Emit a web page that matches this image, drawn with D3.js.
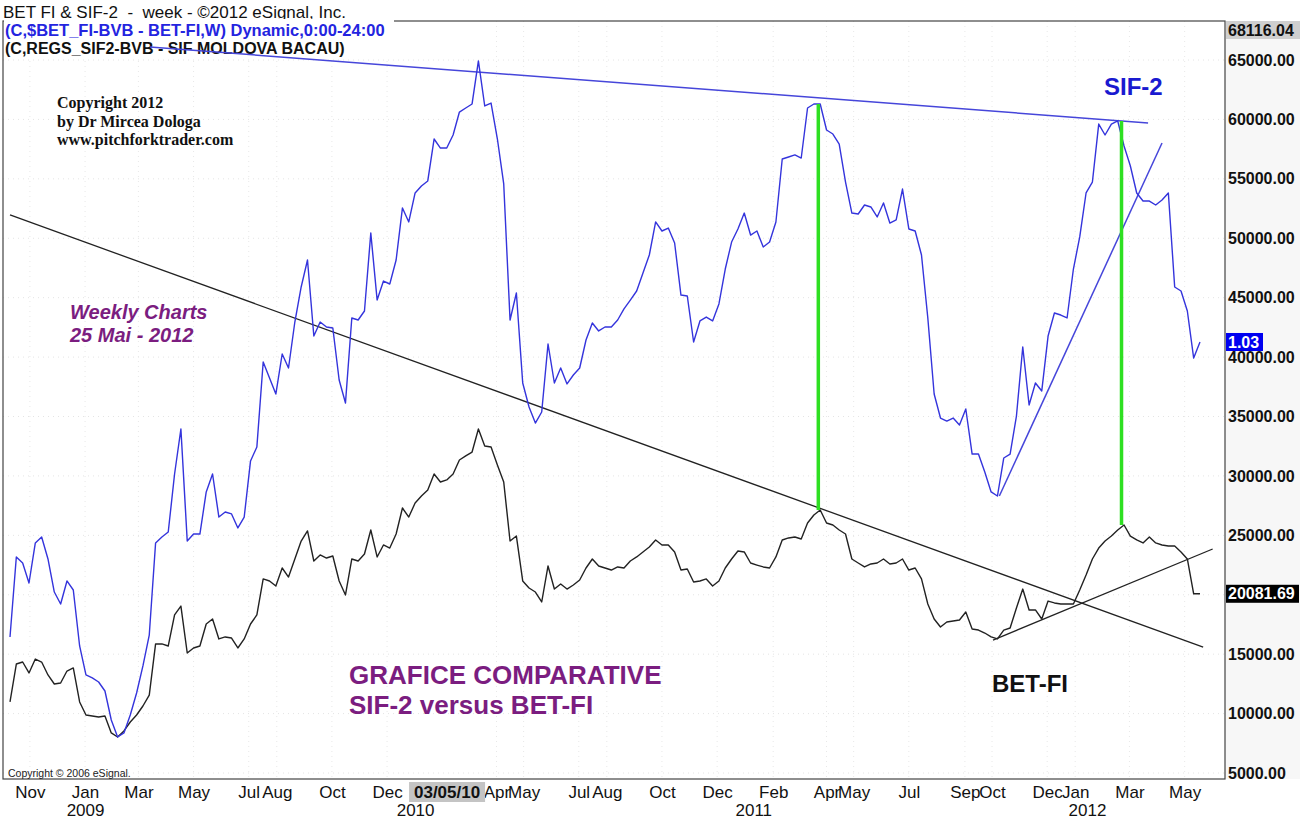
<!DOCTYPE html>
<html lang="en">
<head>
<meta charset="UTF-8">
<title>BET FI & SIF-2 - week</title>
<script src="https://cdn.jsdelivr.net/npm/d3@7"></script>
<style>
body { margin: 0; background: #fff; }
svg text { font-family: "Liberation Sans", Arial, sans-serif; }
svg text.serif { font-family: "Liberation Serif", "Times New Roman", serif; }
</style>
</head>
<body>
<script>

var w = 1313;
var h = 821;
var frame = {left: 3, right: 1225, top: 21, bottom: 779};

// weekly closes, first bar on Fri 10 Oct 2008 (both series on the same price axis)
var firstWeek = "2008-10-10";

var sifValues = [
  16450, 23180, 22670, 20990, 24360, 24860, 23010, 20230, 19220, 21160,
  20400, 15690, 13250, 13000, 12660, 11900, 9460, 8030, 8370, 9880,
  11730, 14010, 16610, 24360, 24860, 25280, 30160, 33950, 24520, 25110,
  25110, 28650, 30160, 26540, 26960, 26800, 25620, 26540, 31260, 32430,
  39590, 38240, 36890, 40260, 39080, 42950, 45900, 48170, 41770, 42950,
  42530, 42450, 38070, 36140, 43290, 43120, 43880, 50440, 44800, 46400,
  46150, 48170, 52550, 51370, 53810, 54400, 54820, 58350, 57590, 57590,
  58690, 60620, 60960, 61300, 64920, 61130, 61380, 58350, 54570, 43120,
  45390, 37820, 35800, 34450, 35380, 41100, 37820, 39080, 37740, 38490,
  39080, 41440, 42870, 42200, 42530, 42530, 43120, 44050, 44800, 45560,
  47080, 48590, 51370, 50610, 50860, 49600, 45220, 45140, 41270, 43040,
  43370, 43040, 44470, 47410, 49680, 50780, 52120, 50270, 50610, 49260,
  49680, 51370, 56670, 56840, 57010, 56750, 60960, 61300, 61300, 59110,
  58770, 57930, 54730, 52120, 52040, 52800, 52630, 51790, 52970, 51280,
  51540, 54140, 50780, 50610, 48590, 43290, 36890, 34870, 34620, 34870,
  34290, 35630, 31840, 31840, 30330, 28650, 28310, 31510, 31840, 35040,
  40850, 35970, 37820, 37150, 41770, 43710, 43540, 43290, 47410, 50110,
  53810, 54730, 59610, 58690, 59610, 59870, 57760, 56080, 53810, 53130,
  53130, 52800, 53220, 53810, 45900, 45560, 43880, 39920, 41270
];

var betValues = [
  10980, 14170, 14340, 13420, 14590, 14340, 13250, 12490, 12570, 13580,
  13840, 10980, 9880, 9800, 9710, 9800, 8370, 8030, 8540, 9290,
  9880, 10640, 11560, 15860, 15860, 15690, 18300, 19050, 15100, 15520,
  15690, 17540, 17960, 16280, 16450, 16360, 15520, 16280, 17540, 18300,
  21330, 21160, 20740, 22250, 21490, 23010, 24520, 25370, 22840, 23350,
  23090, 23260, 21160, 19980, 23010, 22840, 23430, 25450, 23180, 24190,
  23930, 25110, 27300, 26540, 27720, 28310, 28820, 30160, 29490, 29660,
  30160, 31340, 31680, 32010, 33950, 32520, 32430, 30920, 29490, 24520,
  24940, 21160, 20570, 20230, 19390, 22420, 20480, 20910, 20480, 20820,
  21240, 22250, 23010, 22420, 22250, 22080, 22340, 22250, 22840, 23180,
  23600, 24020, 24610, 24190, 24190, 23600, 22080, 22170, 21070, 21160,
  21330, 20740, 21160, 22250, 23010, 23680, 23600, 22670, 22500, 22340,
  22250, 23180, 24610, 24780, 24860, 24690, 26040, 26710, 27130, 26040,
  25870, 25450, 25110, 23010, 22670, 22340, 22590, 22670, 23010, 22590,
  22670, 23010, 22080, 22250, 21330, 19220, 17960, 17290, 17710, 17790,
  17880, 18550, 17120, 17030, 16780, 16450, 16280, 17030, 17200, 18890,
  20480, 18720, 18720, 17960, 19470, 19310, 19220, 19220, 19220, 20400,
  21660, 23010, 23930, 24520, 24940, 25450, 25870, 24940, 24610, 24360,
  24860, 24360, 24190, 24100, 24100, 23600, 23010, 20080, 20081.69
];

var sifLastPrice = "1.03";
var scaleTop = "68116.04";
var cursorDate = "03/05/10";

var yTicks = [65000, 60000, 55000, 50000, 45000, 40000, 35000, 30000, 25000, 20000, 15000, 10000, 5000];

var monthTicks = [
  ["2008-11-01", "Nov"],
  ["2009-01-01", "Jan"], ["2009-03-01", "Mar"], ["2009-05-01", "May"], ["2009-07-01", "Jul"],
  ["2009-08-01", "Aug"], ["2009-10-01", "Oct"], ["2009-12-01", "Dec"],
  ["2010-04-01", "Apr"], ["2010-05-01", "May"],
  ["2010-07-01", "Jul"], ["2010-08-01", "Aug"], ["2010-10-01", "Oct"], ["2010-12-01", "Dec"],
  ["2011-02-01", "Feb"], ["2011-04-01", "Apr"], ["2011-05-01", "May"], ["2011-07-01", "Jul"],
  ["2011-09-01", "Sep"], ["2011-10-01", "Oct"], ["2011-12-01", "Dec"],
  ["2012-01-01", "Jan"], ["2012-03-01", "Mar"], ["2012-05-01", "May"]
];
var yearTicks = [["2009-01-01", "2009"], ["2010-01-01", "2010"], ["2011-01-10", "2011"], ["2012-01-14", "2012"]];

// hand drawn lines: [week, value] end points
var sifResistance = [[22.1, 66090], [179.8, 59700]];
var betResistance = [[0, 51960], [188.5, 15600]];
var sifSupport = [[156.3, 28310], [182, 58020]];
var betSupport = [[155.3, 16190], [190, 23850]];
var peakLinks = [[127.7, 61300, 27130], [175.6, 59870, 25870]];

var parseDate = d3.timeParse("%Y-%m-%d");
var start = parseDate(firstWeek);
function weekDate(k) { return new Date(start.getTime() + k * 7 * 864e5); }

var x = d3.scaleTime()
    .domain([weekDate(0), weekDate(sifValues.length - 1)])
    .range([10, 1200]);
var y = d3.scaleLinear()
    .domain([5000, 65000])
    .range([773, 60]);

var svg = d3.select("body").append("svg")
    .attr("width", w)
    .attr("height", h);

svg.append("rect").attr("width", w).attr("height", h).attr("fill", "#fff");
svg.append("rect")
    .attr("x", frame.right).attr("y", frame.top)
    .attr("width", 75).attr("height", frame.bottom - frame.top)
    .attr("fill", "#f7f7f7");

// faint dotted grid
svg.append("g").selectAll("line").data(yTicks).enter().append("line")
    .attr("x1", frame.left).attr("x2", frame.right)
    .attr("y1", function(d) { return y(d); }).attr("y2", function(d) { return y(d); })
    .attr("stroke", "#e4e4e4").attr("stroke-dasharray", "1,4");
svg.append("g").selectAll("line").data(monthTicks).enter().append("line")
    .attr("x1", function(d) { return x(parseDate(d[0])); })
    .attr("x2", function(d) { return x(parseDate(d[0])); })
    .attr("y1", frame.top).attr("y2", frame.bottom)
    .attr("stroke", "#e8e8e8").attr("stroke-dasharray", "1,4");

svg.append("rect")
    .attr("x", frame.left).attr("y", frame.top)
    .attr("width", frame.right - frame.left).attr("height", frame.bottom - frame.top)
    .attr("fill", "none").attr("stroke", "#444").attr("stroke-width", 1.2);

// header
svg.append("text").attr("x", 3).attr("y", 18)
    .attr("font-size", "17px").attr("fill", "#111")
    .style("white-space", "pre")
    .text("BET FI & SIF-2  -  week - \u00a92012 eSignal, Inc.");
svg.append("rect").attr("x", frame.left + 1).attr("y", 19).attr("width", 390).attr("height", 38).attr("fill", "#fff");
svg.append("text").attr("x", 5).attr("y", 36)
    .attr("font-size", "16.5px").attr("font-weight", "bold").attr("fill", "#2424e0")
    .text("(C,$BET_FI-BVB - BET-FI,W) Dynamic,0:00-24:00");
svg.append("text").attr("x", 5).attr("y", 54)
    .attr("font-size", "16px").attr("font-weight", "bold").attr("fill", "#111")
    .text("(C,REGS_SIF2-BVB - SIF MOLDOVA BACAU)");

// notes
["Copyright 2012", "by Dr Mircea Dologa", "www.pitchforktrader.com"].forEach(function(t, i) {
    svg.append("text").attr("class", "serif")
        .attr("x", 57).attr("y", 108 + i * 18.5)
        .attr("font-weight", "bold").attr("font-size", "16px").attr("fill", "#111")
        .text(t);
});

var purple = "#7b1d80";
svg.append("text").attr("x", 70).attr("y", 319)
    .attr("font-size", "20px").attr("font-weight", "bold").attr("font-style", "italic")
    .attr("fill", purple).text("Weekly Charts");
svg.append("text").attr("x", 70).attr("y", 342)
    .attr("font-size", "20px").attr("font-weight", "bold").attr("font-style", "italic")
    .attr("fill", purple).text("25 Mai - 2012");
svg.append("text").attr("x", 349).attr("y", 684)
    .attr("font-size", "26px").attr("font-weight", "bold")
    .attr("fill", purple).text("GRAFICE COMPARATIVE");
svg.append("text").attr("x", 349).attr("y", 714)
    .attr("font-size", "26px").attr("font-weight", "bold")
    .attr("fill", purple).text("SIF-2 versus BET-FI");
svg.append("text").attr("x", 992).attr("y", 692)
    .attr("font-size", "24px").attr("font-weight", "bold")
    .attr("fill", "#111").text("BET-FI");
svg.append("text").attr("x", 1104).attr("y", 95)
    .attr("font-size", "24px").attr("font-weight", "bold")
    .attr("fill", "#1a1ad0").text("SIF-2");
svg.append("text").attr("x", 8).attr("y", 777)
    .attr("font-size", "10.5px").attr("fill", "#222")
    .text("Copyright \u00a9 2006 eSignal.");

// trend lines
function drawSegment(pts, colour, width) {
    svg.append("line")
        .attr("x1", x(weekDate(pts[0][0]))).attr("y1", y(pts[0][1]))
        .attr("x2", x(weekDate(pts[1][0]))).attr("y2", y(pts[1][1]))
        .attr("stroke", colour).attr("stroke-width", width);
}
drawSegment(sifResistance, "#4646da", 1.5);
drawSegment(sifSupport, "#4646da", 1.5);
drawSegment(betResistance, "#222", 1.3);
drawSegment(betSupport, "#222", 1.3);

// price lines
var line = d3.line()
    .x(function(d, i) { return x(weekDate(i)); })
    .y(function(d) { return y(d); });

svg.append("path").datum(betValues)
    .attr("d", line).attr("fill", "none")
    .attr("stroke", "#222").attr("stroke-width", 1.4).attr("stroke-linejoin", "round");
svg.append("path").datum(sifValues)
    .attr("d", line).attr("fill", "none")
    .attr("stroke", "#3434dc").attr("stroke-width", 1.4).attr("stroke-linejoin", "round");

svg.append("g").selectAll("line").data(peakLinks).enter().append("line")
    .attr("x1", function(d) { return x(weekDate(d[0])); })
    .attr("x2", function(d) { return x(weekDate(d[0])); })
    .attr("y1", function(d) { return y(d[1]); })
    .attr("y2", function(d) { return y(d[2]); })
    .attr("stroke", "#2ee022").attr("stroke-width", 3.5);

// right price axis
var yAxis = svg.append("g")
    .attr("transform", "translate(" + frame.right + ",0)")
    .call(d3.axisRight(y).tickValues(yTicks).tickFormat(d3.format(".2f")).tickSize(0).tickPadding(3));
yAxis.select(".domain").remove();
yAxis.selectAll("text")
    .attr("font-size", "16px").attr("font-weight", "bold").attr("fill", "#111")
    .attr("font-family", "'Liberation Sans', Arial, sans-serif");

function priceTag(val, label, bg, fg, width) {
    var g = svg.append("g").attr("transform", "translate(" + (frame.right + 1) + "," + y(val) + ")");
    g.append("rect").attr("x", 0).attr("y", -9).attr("width", width).attr("height", 18).attr("fill", bg);
    g.append("text").attr("x", 2).attr("dy", "0.35em")
        .attr("font-size", "16px").attr("font-weight", "bold").attr("fill", fg).text(label);
}
priceTag(sifValues[sifValues.length - 1], sifLastPrice, "#0000f0", "#fff", 37);
priceTag(betValues[betValues.length - 1], d3.format(".2f")(betValues[betValues.length - 1]), "#000", "#fff", 73);

var topTag = svg.append("g").attr("transform", "translate(" + (frame.right + 1) + "," + (frame.top + 9) + ")");
topTag.append("rect").attr("y", -9).attr("width", 74).attr("height", 18).attr("fill", "#cfcfcf");
topTag.append("text").attr("x", 2).attr("dy", "0.35em")
    .attr("font-size", "16px").attr("font-weight", "bold").attr("fill", "#111").text(scaleTop);

// bottom time axis
var monthLabel = {};
monthTicks.forEach(function(d) { monthLabel[+parseDate(d[0])] = d[1]; });
var xAxis = svg.append("g")
    .attr("transform", "translate(0," + frame.bottom + ")")
    .call(d3.axisBottom(x)
        .tickValues(monthTicks.map(function(d) { return parseDate(d[0]); }))
        .tickFormat(function(d) { return monthLabel[+d]; })
        .tickSize(0).tickPadding(7));
xAxis.select(".domain").remove();
xAxis.selectAll("text")
    .attr("font-size", "17px").attr("fill", "#111")
    .attr("font-family", "'Liberation Sans', Arial, sans-serif");

var yearLabel = {};
yearTicks.forEach(function(d) { yearLabel[+parseDate(d[0])] = d[1]; });
var yearAxis = svg.append("g")
    .attr("transform", "translate(0," + frame.bottom + ")")
    .call(d3.axisBottom(x)
        .tickValues(yearTicks.map(function(d) { return parseDate(d[0]); }))
        .tickFormat(function(d) { return yearLabel[+d]; })
        .tickSize(0).tickPadding(25));
yearAxis.select(".domain").remove();
yearAxis.selectAll("text")
    .attr("font-size", "17px").attr("fill", "#111")
    .attr("font-family", "'Liberation Sans', Arial, sans-serif");

// cursor date readout
var cx = x(d3.timeParse("%m/%d/%y")(cursorDate)) - 63;
svg.append("rect").attr("x", cx).attr("y", frame.bottom + 3).attr("width", 76).attr("height", 20).attr("fill", "#c4c4c4");
svg.append("text").attr("x", cx + 38).attr("y", frame.bottom + 19)
    .attr("text-anchor", "middle").attr("font-size", "17px").attr("font-weight", "bold").attr("fill", "#111")
    .text(cursorDate);

</script>
</body>
</html>
